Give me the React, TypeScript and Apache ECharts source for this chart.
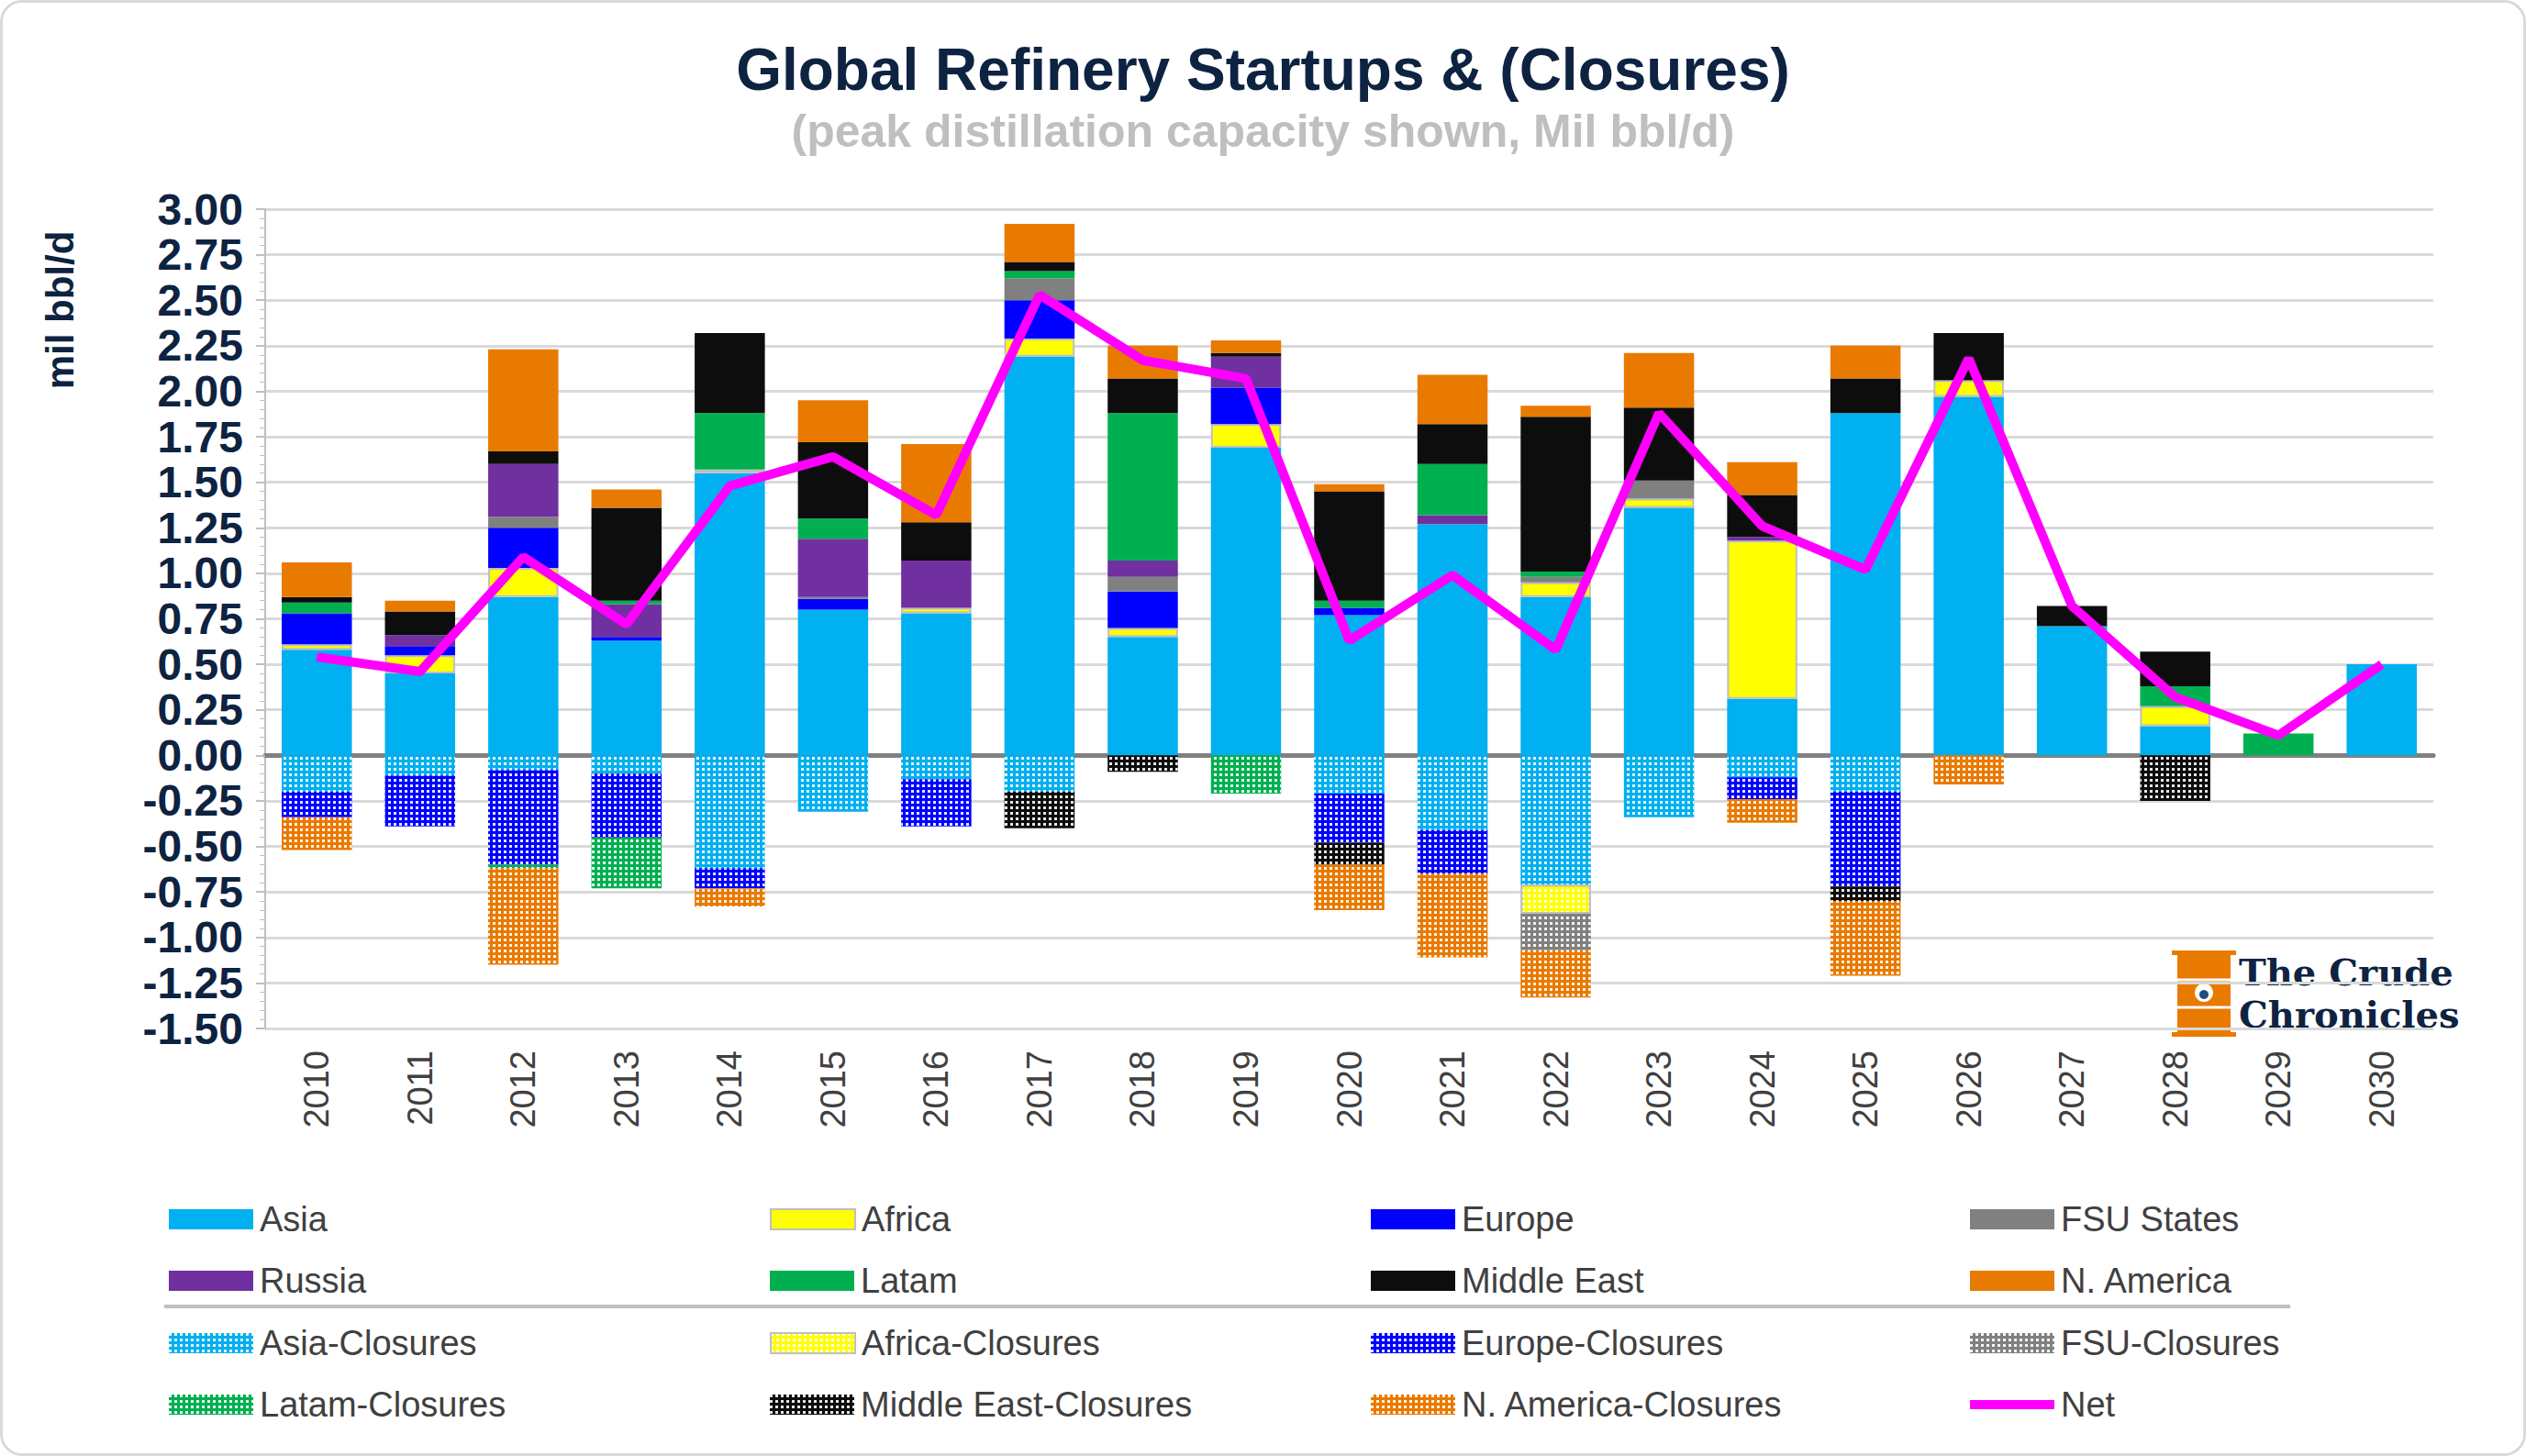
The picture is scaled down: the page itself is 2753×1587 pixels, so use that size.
import React, { useEffect, useRef } from "react";
import * as echarts from "echarts";

const years = ["2010","2011","2012","2013","2014","2015","2016","2017","2018","2019","2020","2021","2022","2023","2024","2025","2026","2027","2028","2029","2030"];
const asia =      [0.58,0.45,0.87,0.63,1.55,0.80,0.78,2.19,0.65,1.69,0.77,1.27,0.87,1.36,0.31,1.88,1.97,0.71,0.16,0,0.50];
const africa =    [0.03,0.10,0.16,0,0.02,0,0.03,0.10,0.05,0.13,0,0,0.08,0.05,0.87,0,0.09,0,0.11,0,0];
const europe =    [0.17,0.05,0.22,0.02,0,0.06,0,0.21,0.20,0.20,0.04,0,0,0,0,0,0,0,0,0,0];
const fsu =       [0,0,0.06,0,0,0.01,0,0.12,0.08,0,0,0,0.03,0.10,0,0,0,0,0,0,0];
const russia =    [0,0.06,0.29,0.18,0,0.32,0.26,0,0.09,0.17,0,0.05,0,0,0.02,0,0,0,0,0,0];
const latam =     [0.06,0,0,0.02,0.31,0.11,0,0.04,0.81,0,0.04,0.28,0.03,0,0,0,0,0,0.11,0.12,0];
const mideast =   [0.03,0.13,0.07,0.51,0.44,0.42,0.21,0.05,0.19,0.02,0.60,0.22,0.85,0.40,0.23,0.19,0.26,0.11,0.19,0,0];
const namerica =  [0.19,0.06,0.56,0.10,0,0.23,0.43,0.21,0.18,0.07,0.04,0.27,0.06,0.30,0.18,0.18,0,0,0,0,0];
const asiaC =     [-0.20,-0.11,-0.08,-0.10,-0.62,-0.31,-0.13,-0.20,0,0,-0.21,-0.41,-0.71,-0.34,-0.12,-0.20,0,0,0,0,0];
const africaC =   [0,0,0,0,0,0,0,0,0,0,0,0,-0.16,0,0,0,0,0,0,0,0];
const europeC =   [-0.14,-0.28,-0.52,-0.35,-0.11,0,-0.26,0,0,0,-0.27,-0.24,0,0,-0.12,-0.52,0,0,0,0,0];
const fsuC =      [0,0,0,0,0,0,0,0,0,0,0,0,-0.20,0,0,0,0,0,0,0,0];
const latamC =    [0,0,-0.02,-0.28,0,0,0,0,0,-0.21,0,0,0,0,0,0,0,0,0,0,0];
const mideastC =  [0,0,0,0,0,0,0,-0.20,-0.09,0,-0.12,0,0,0,0,-0.08,0,0,-0.25,0,0];
const namericaC = [-0.18,0,-0.53,0,-0.10,0,0,0,0,0,-0.25,-0.46,-0.26,0,-0.13,-0.41,-0.16,0,0,0,0];
const net =       [0.54,0.46,1.09,0.72,1.48,1.64,1.32,2.53,2.17,2.07,0.63,0.99,0.58,1.88,1.26,1.02,2.18,0.82,0.32,0.11,0.50];
const yTicks = { min: -1.5, max: 3, interval: 0.25 };

const C = { asia: "#00B0F0", africa: "#FFFF00", europe: "#0000FF", fsu: "#808080", russia: "#7030A0", latam: "#00B050", me: "#0D0D0D", na: "#E97A00" };
const FONT = "Arial, 'Liberation Sans'";

export default function App() {
  const ref = useRef<HTMLDivElement>(null);
  useEffect(() => {
    document.body.style.margin = "0";
    const chart = echarts.init(ref.current!, null, { renderer: "svg" });
    const decal = { symbol: "rect", symbolSize: 1, dashArrayX: [3, 3], dashArrayY: [3, 3], color: "rgba(255,255,255,0.9)" };
    const bar = (name: string, data: number[], color: string, closure: boolean, border = false) => ({
      name, type: "bar", stack: "a", data: data.map(v => (v === 0 ? null : v)),
      barCategoryGap: "32%",
      itemStyle: {
        color,
        borderColor: border ? "#BFBFBF" : undefined,
        borderWidth: border ? 2 : 0,
        decal: closure ? decal : undefined,
      },
    });
    const series: any[] = [
      bar("Asia", asia, C.asia, false),
      bar("Africa", africa, C.africa, false, true),
      bar("Europe", europe, C.europe, false),
      bar("FSU States", fsu, C.fsu, false),
      bar("Russia", russia, C.russia, false),
      bar("Latam", latam, C.latam, false),
      bar("Middle East", mideast, C.me, false),
      bar("N. America", namerica, C.na, false),
      bar("Asia-Closures", asiaC, C.asia, true),
      bar("Africa-Closures", africaC, C.africa, true, true),
      bar("Europe-Closures", europeC, C.europe, true),
      bar("FSU-Closures", fsuC, C.fsu, true),
      bar("Latam-Closures", latamC, C.latam, true),
      bar("Middle East-Closures", mideastC, C.me, true),
      bar("N. America-Closures", namericaC, C.na, true),
      { name: "Net", type: "line", data: net, symbol: "none", lineStyle: { color: "#FF00FF", width: 10 }, itemStyle: { color: "#FF00FF" }, z: 10 },
    ];
    const names = series.map(s => s.name);
    const colX = [176, 831, 1486, 2139];
    const rowY = [1302, 1369, 1437, 1504];
    const legends = names.map((n, i) => ({
      data: [n], left: colX[i % 4], top: rowY[Math.floor(i / 4)],
      itemWidth: 92, itemHeight: n === "Net" ? 10 : 22, itemGap: 0,
      textStyle: { fontSize: 38, color: "#404040", fontFamily: FONT, padding: [0, 0, 0, 2] },
      icon: "rect", selectedMode: false,
    }));
    chart.setOption({
      animation: false,
      backgroundColor: "#fff",
      title: [
        { text: "Global Refinery Startups & (Closures)", left: "center", top: 36, textStyle: { fontSize: 64, fontWeight: "bold", color: "#0E2341", fontFamily: FONT } },
        { text: "(peak distillation capacity shown, Mil bbl/d)", left: "center", top: 110, textStyle: { fontSize: 50, fontWeight: "bold", color: "#BFBFBF", fontFamily: FONT } },
      ],
      legend: legends,
      grid: { left: 286, right: 98, top: 225, bottom: 1587 - 1124 },
      xAxis: {
        type: "category", data: years,
        axisLine: { onZero: true, lineStyle: { color: "#808080", width: 5 } },
        axisTick: { show: false },
        axisLabel: { rotate: 90, fontSize: 38, color: "#404040", fontFamily: FONT, margin: 24 },
      },
      yAxis: {
        type: "value", ...yTicks,
        axisLine: { show: true, lineStyle: { color: "#BFBFBF", width: 2 } },
        axisTick: { show: true, length: 10, lineStyle: { color: "#BFBFBF", width: 2 } },
        minorTick: { show: true, splitNumber: 5, length: 6, lineStyle: { color: "#BFBFBF" } },
        splitLine: { lineStyle: { color: "#D9D9D9", width: 3 } },
        axisLabel: { fontSize: 48, fontWeight: "bold", color: "#0E2341", fontFamily: FONT, formatter: (v: number) => v.toFixed(2), margin: 24 },
      },
      graphic: [
        { type: "text", x: 62, y: 335, rotation: Math.PI / 2, style: { text: "mil bbl/d", font: `bold 42px ${FONT}`, fill: "#0E2341", align: "center", verticalAlign: "middle" } },
        { type: "line", shape: { x1: 176, y1: 1421, x2: 2493, y2: 1421 }, style: { stroke: "#BFBFBF", lineWidth: 4 } },
        { type: "rect", shape: { x: 2370, y: 1035, width: 58, height: 90 }, style: { fill: "#E97A00" } },
        { type: "rect", shape: { x: 2364, y: 1033, width: 70, height: 5 }, style: { fill: "#E97A00" } },
        { type: "rect", shape: { x: 2364, y: 1122, width: 70, height: 5 }, style: { fill: "#E97A00" } },
        { type: "line", shape: { x1: 2370, y1: 1065, x2: 2428, y2: 1065 }, style: { stroke: "#fff", lineWidth: 3 } },
        { type: "line", shape: { x1: 2370, y1: 1095, x2: 2428, y2: 1095 }, style: { stroke: "#fff", lineWidth: 3 } },
        { type: "circle", shape: { cx: 2399, cy: 1079, r: 10 }, style: { fill: "#fff" } },
        { type: "circle", shape: { cx: 2399, cy: 1081, r: 5 }, style: { fill: "#1F4E79" } },
        { type: "text", x: 2437, y: 1036, style: { text: "The Crude", font: "bold 40px 'DejaVu Serif'", fill: "#0E2341" } },
        { type: "text", x: 2437, y: 1082, style: { text: "Chronicles", font: "bold 40px 'DejaVu Serif'", fill: "#0E2341" } },
      ],
      series,
    });
    return () => chart.dispose();
  }, []);
  return (
    <div style={{ width: 2753, height: 1587, boxSizing: "border-box", border: "3px solid #D9D9D9", borderRadius: 24, overflow: "hidden", background: "#fff" }}>
      <div ref={ref} style={{ width: 2747, height: 1581 }} />
    </div>
  );
}
